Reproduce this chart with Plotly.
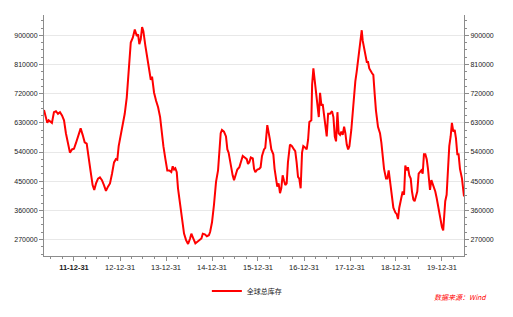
import plotly.graph_objects as go
import pandas as pd

series_name = "全球总库存"
source_text = "数据来源：Wind"

dates = [
    "2011-05-07", "2011-05-23", "2011-06-02", "2011-06-13", "2011-06-29", "2011-07-09",
    "2011-07-25", "2011-08-10", "2011-08-26", "2011-09-11", "2011-09-27", "2011-10-13",
    "2011-10-28", "2011-11-13", "2011-11-29", "2011-12-15", "2011-12-31",
    "2012-01-16", "2012-02-01", "2012-02-22", "2012-03-09", "2012-03-25", "2012-04-10",
    "2012-04-26", "2012-05-12", "2012-05-27", "2012-06-09", "2012-06-23", "2012-07-09",
    "2012-07-24", "2012-08-09", "2012-08-25", "2012-09-10", "2012-09-26", "2012-10-12",
    "2012-10-28", "2012-11-13", "2012-11-28", "2012-12-09", "2012-12-20",
    "2013-01-06", "2013-01-21", "2013-02-06", "2013-02-22", "2013-03-10", "2013-03-26",
    "2013-04-11", "2013-04-27", "2013-05-13", "2013-05-23", "2013-06-02", "2013-06-13",
    "2013-06-24", "2013-07-04", "2013-07-20", "2013-08-05", "2013-08-21", "2013-09-01",
    "2013-09-11", "2013-09-27", "2013-10-13", "2013-10-29", "2013-11-14", "2013-11-24",
    "2013-12-10", "2013-12-26",
    "2014-01-10", "2014-01-26", "2014-02-11", "2014-02-22", "2014-03-05", "2014-03-15",
    "2014-03-26", "2014-04-05", "2014-04-21", "2014-05-07", "2014-05-23", "2014-06-08",
    "2014-06-24", "2014-07-10", "2014-07-20", "2014-08-05", "2014-08-21", "2014-09-06",
    "2014-09-22", "2014-10-08", "2014-10-19", "2014-11-04", "2014-11-20", "2014-12-06",
    "2014-12-16", "2014-12-31",
    "2015-01-16", "2015-02-01", "2015-02-17", "2015-02-27", "2015-03-10", "2015-03-20",
    "2015-04-05", "2015-04-21", "2015-05-02", "2015-05-12", "2015-05-28", "2015-06-13",
    "2015-06-24", "2015-07-04", "2015-07-20", "2015-08-05", "2015-08-16", "2015-09-01",
    "2015-09-17", "2015-10-03", "2015-10-13", "2015-10-23", "2015-11-04", "2015-11-20",
    "2015-11-30", "2015-12-10", "2015-12-26",
    "2016-01-10", "2016-01-21", "2016-02-01", "2016-02-17", "2016-02-27", "2016-03-14",
    "2016-03-25", "2016-04-04", "2016-04-15", "2016-05-01", "2016-05-11", "2016-05-22",
    "2016-06-01", "2016-06-12", "2016-06-23", "2016-07-03", "2016-07-14", "2016-07-24",
    "2016-08-04", "2016-08-15", "2016-08-25", "2016-09-10", "2016-09-26", "2016-10-12",
    "2016-10-22", "2016-11-02", "2016-11-13", "2016-11-23", "2016-12-04", "2016-12-15",
    "2016-12-25",
    "2017-01-10", "2017-01-21", "2017-02-01", "2017-02-11", "2017-02-27", "2017-03-05",
    "2017-03-15", "2017-03-26", "2017-04-05", "2017-04-16", "2017-04-27", "2017-05-07",
    "2017-05-18", "2017-05-28", "2017-06-08", "2017-06-18", "2017-06-29", "2017-07-10",
    "2017-07-25", "2017-08-10", "2017-08-21", "2017-09-01", "2017-09-11", "2017-09-22",
    "2017-10-02", "2017-10-13", "2017-10-23", "2017-11-03", "2017-11-14", "2017-11-24",
    "2017-12-05", "2017-12-16", "2017-12-26",
    "2018-01-10", "2018-01-26", "2018-02-11", "2018-02-22", "2018-03-05", "2018-03-15",
    "2018-03-26", "2018-04-03", "2018-04-11", "2018-04-21", "2018-05-01", "2018-05-13",
    "2018-05-23", "2018-06-02", "2018-06-24", "2018-07-04", "2018-07-15", "2018-07-25",
    "2018-08-10", "2018-08-26", "2018-09-06", "2018-09-16", "2018-09-27", "2018-10-13",
    "2018-10-23", "2018-11-03", "2018-11-14", "2018-11-30", "2018-12-10", "2018-12-26",
    "2019-01-06", "2019-01-16", "2019-01-26", "2019-02-11", "2019-02-22", "2019-03-05",
    "2019-03-15", "2019-03-26", "2019-04-05", "2019-04-16", "2019-04-27", "2019-05-07",
    "2019-05-18", "2019-05-28", "2019-06-08", "2019-06-18", "2019-06-29", "2019-07-10",
    "2019-07-20", "2019-07-31", "2019-08-10", "2019-08-21", "2019-09-01", "2019-09-11",
    "2019-09-22", "2019-09-27", "2019-10-08", "2019-10-18", "2019-10-29", "2019-11-08",
    "2019-11-19", "2019-11-30", "2019-12-10", "2019-12-21", "2019-12-31",
    "2020-01-10", "2020-01-16", "2020-01-26", "2020-02-06", "2020-02-17", "2020-02-27",
    "2020-03-09", "2020-03-19", "2020-03-30", "2020-04-10", "2020-04-20", "2020-05-01",
    "2020-05-11", "2020-05-22", "2020-06-07", "2020-06-15", "2020-06-23",
]

inventory = [
    670000, 638000, 630000, 638000, 633000, 630000,
    663000, 666000, 658000, 663000, 653000, 638000,
    598000, 568000, 538000, 548000, 550000,
    568000, 588000, 613000, 593000, 570000, 566000,
    528000, 478000, 438000, 423000, 443000, 458000,
    462000, 453000, 438000, 420000, 433000, 443000,
    473000, 508000, 518000, 516000, 558000,
    593000, 618000, 658000, 708000, 798000, 878000,
    893000, 918000, 898000, 903000, 873000, 888000,
    926000, 913000, 868000, 828000, 788000, 763000,
    773000, 723000, 698000, 678000, 648000, 608000,
    558000, 518000,
    483000, 483000, 478000, 496000, 486000, 490000,
    478000, 428000, 378000, 328000, 288000, 268000,
    256000, 273000, 288000, 273000, 258000, 263000,
    268000, 273000, 288000, 286000, 280000, 283000,
    293000, 323000,
    378000, 448000, 483000, 548000, 598000, 608000,
    603000, 588000, 548000, 538000, 498000, 468000,
    453000, 468000, 486000, 493000, 508000, 528000,
    523000, 518000, 503000, 508000, 523000, 520000,
    488000, 478000, 486000,
    488000, 493000, 528000, 548000, 553000, 623000,
    603000, 578000, 548000, 533000, 488000, 448000,
    433000, 443000, 413000, 428000, 468000, 453000,
    438000, 443000, 508000, 563000, 558000, 548000,
    543000, 508000, 463000, 458000, 428000, 538000,
    558000,
    553000, 548000, 578000, 633000, 638000, 748000,
    798000, 758000, 733000, 698000, 648000, 723000,
    683000, 688000, 658000, 618000, 588000, 658000,
    658000, 666000, 648000, 588000, 573000, 663000,
    598000, 593000, 603000, 593000, 618000, 598000,
    563000, 548000, 558000,
    608000, 698000, 758000, 788000, 828000, 858000,
    893000, 916000, 883000, 858000, 838000, 818000,
    818000, 798000, 783000, 778000, 718000, 668000,
    618000, 598000, 568000, 528000, 488000, 458000,
    458000, 483000, 448000, 403000, 368000, 353000,
    348000, 333000, 368000, 398000, 418000, 408000,
    498000, 483000, 493000, 468000, 458000, 418000,
    393000, 388000, 408000, 418000, 473000, 478000,
    483000, 473000, 533000, 533000, 518000, 488000,
    453000, 423000, 453000, 443000, 433000, 418000,
    398000, 373000, 348000, 323000, 308000,
    298000, 348000, 388000, 408000, 478000, 558000,
    588000, 630000, 603000, 608000, 583000, 533000,
    533000, 488000, 458000, 428000, 403000,
]

x_tick_dates = ["2011-12-31", "2012-12-31", "2013-12-31", "2014-12-31", "2015-12-31",
                "2016-12-31", "2017-12-31", "2018-12-31", "2019-12-31"]
x_tick_labels = ["<b>11-12-31</b>", "12-12-31", "13-12-31", "14-12-31", "15-12-31",
                 "16-12-31", "17-12-31", "18-12-31", "19-12-31"]
y_ticks = [270000, 360000, 450000, 540000, 630000, 720000, 810000, 900000]
y_labels = [str(v) for v in y_ticks]
x_range = ["2011-05-07", "2020-06-23"]
y_range = [219000, 963000]

minor_x = [d.strftime("%Y-%m-%d") for d in pd.date_range("2011-06-30", "2020-06-30", freq="QE")]

axis_color = "#8c8c8c"
text_color = "#1a1a1a"
tick_font = dict(family="Liberation Sans, Arial, sans-serif", size=7, color=text_color)

fig = go.Figure()
fig.add_trace(go.Scatter(
    x=dates, y=inventory, mode="lines", name=series_name,
    line=dict(color="#ff0000", width=2), hoverinfo="skip",
))
fig.add_trace(go.Scatter(
    x=dates, y=inventory, mode="lines", yaxis="y2", showlegend=False,
    line=dict(color="rgba(0,0,0,0)", width=1), hoverinfo="skip",
))

yaxis_common = dict(
    range=y_range, tickmode="array", tickvals=y_ticks, ticktext=y_labels,
    ticks="outside", ticklen=4, tickwidth=1, tickcolor=axis_color,
    showline=True, linecolor=axis_color, linewidth=1,
    tickfont=tick_font, zeroline=False,
    minor=dict(ticks="outside", ticklen=2, tickcolor=axis_color, dtick=22500,
               tick0=270000, showgrid=False),
)

fig.update_layout(
    width=513, height=317,
    margin=dict(l=44, r=49, t=15, b=54),
    paper_bgcolor="white", plot_bgcolor="white",
    showlegend=True,
    legend=dict(
        orientation="h", x=0.483, xanchor="center", y=-0.085, yanchor="top",
        font=dict(family="Noto Sans CJK SC, sans-serif", size=7, color=text_color),
        itemwidth=30, bgcolor="rgba(0,0,0,0)",
    ),
    xaxis=dict(
        type="date", range=x_range, tickmode="array", tickvals=x_tick_dates,
        ticktext=x_tick_labels, ticks="outside", ticklen=4, tickcolor=axis_color,
        showline=True, linecolor=axis_color, linewidth=1, showgrid=False,
        tickfont=dict(family="Liberation Sans, Arial, sans-serif", size=7.5, color=text_color),
        zeroline=False,
        minor=dict(ticks="outside", ticklen=2, tickcolor=axis_color,
                   tickmode="array", tickvals=minor_x, showgrid=False),
    ),
    yaxis=dict(**yaxis_common, showgrid=True, gridcolor="#e8e8e8", gridwidth=1, side="left"),
    yaxis2=dict(**yaxis_common, showgrid=False, overlaying="y", side="right"),
    annotations=[dict(
        text="<i>" + source_text + "</i>", xref="paper", yref="paper", x=1.06, y=-0.14,
        xanchor="right", yanchor="top", showarrow=False,
        font=dict(family="Noto Sans CJK SC, sans-serif", size=7, color="#ff0000"),
    )],
)

fig.write_html("out.html")
